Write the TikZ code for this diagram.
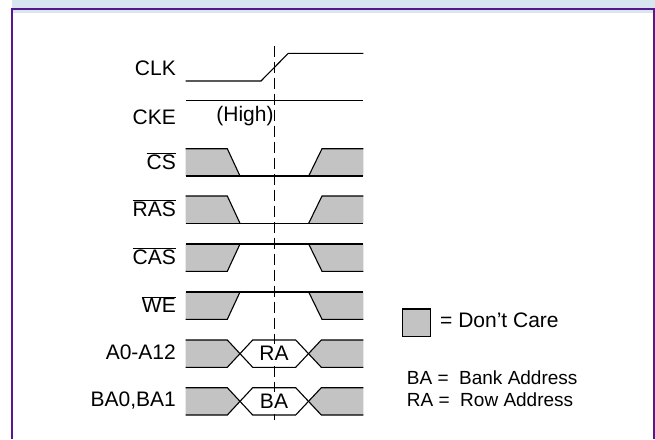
\documentclass[tikz,border=0pt]{standalone}
\usepackage{fontspec}
\setmainfont{Liberation Sans}
\definecolor{dcgrey}{HTML}{C3C3C3}
\definecolor{bandblue}{HTML}{D8E7EF}
\definecolor{frame}{HTML}{5A168C}
\newcommand\ovl[1]{$\overline{\mbox{#1}}$}
\tikzset{
  sig/.style={line width=1.1pt, line join=miter},
  lbl/.style={anchor=east, inner sep=0pt, font=\fontsize{21}{24}\selectfont},
  txt/.style={inner sep=0pt, font=\fontsize{21}{24}\selectfont},
  pics/carefall/.style={code={
    \fill[dcgrey] (185.7,0)--(227.3,0)--(240,27.3)--(185.7,27.3)--cycle;
    \fill[dcgrey] (308.7,27.3)--(322,0)--(363.3,0)--(363.3,27.3)--cycle;
    \draw[sig] (185.7,0)--(227.3,0)--(240,27.3);
    \draw[sig] (185.7,27.3)--(363.3,27.3);
    \draw[sig] (308.7,27.3)--(322,0)--(363.3,0);
  }},
  pics/carerise/.style={code={
    \fill[dcgrey] (185.7,0)--(240,0)--(227.3,27.3)--(185.7,27.3)--cycle;
    \fill[dcgrey] (308.7,0)--(363.3,0)--(363.3,27.3)--(322,27.3)--cycle;
    \draw[sig] (185.7,0)--(363.3,0);
    \draw[sig] (185.7,27.3)--(227.3,27.3)--(240,0);
    \draw[sig] (308.7,0)--(322,27.3)--(363.3,27.3);
  }},
  pics/bus/.style={code={
    \fill[dcgrey] (185.7,0)--(227.3,0)--(240,13.65)--(227.3,27.3)--(185.7,27.3)--cycle;
    \fill[dcgrey] (308.7,13.65)--(321.3,0)--(363.3,0)--(363.3,27.3)--(321.3,27.3)--cycle;
    \draw[sig] (185.7,0)--(227.3,0)--(252.7,27.3)--(295.7,27.3)--(321.3,0)--(363.3,0);
    \draw[sig] (185.7,27.3)--(227.3,27.3)--(252.7,0)--(295.7,0)--(321.3,27.3)--(363.3,27.3);
  }}
}
\begin{document}
\begin{tikzpicture}[x=1pt,y=-1pt]
\useasboundingbox (0,0) rectangle (655,439);
% header band and frame
\fill[bandblue] (12,0) rectangle (655,13);
\fill[white] (12.7,13) rectangle (653.3,439);
\draw[frame, line width=1.8pt] (11.8,439) -- (11.8,9.1) -- (655,9.1);
\draw[frame, line width=1.8pt] (654.2,9.1) -- (654.2,439);
% reference line
\draw[line width=0.9pt, dash pattern=on 11pt off 5pt] (274.3,46) coordinate (reftop) -- (274.3,420) coordinate (refbot);
% CLK
\draw[sig] (185.7,81) -- (261,81) -- (288.3,53.3) -- (363.3,53.3);
\node[lbl] (lclk) at (176,68) {CLK};
% CKE
\draw[sig] (185.7,100.7) -- (363.3,100.7);
\node[lbl] (lcke) at (176,117) {CKE};
\node[txt] (high) at (245,116.5) {(High)};
% control signals
\pic at (0,148.7) {carefall};
\node[lbl] (lcs) at (176,161) {\ovl{CS}};
\pic at (0,196) {carefall};
\node[lbl] (lras) at (176,208.5) {\ovl{RAS}};
\pic at (0,244) {carerise};
\node[lbl] (lcas) at (176,256.5) {\ovl{CAS}};
\pic at (0,292) {carerise};
\node[lbl] (lwe) at (176,304.5) {\ovl{WE}};
% buses
\pic at (0,340) {bus};
\node[txt, fill=white, inner xsep=1pt, inner ysep=2pt] (ra) at (274,353.5) {RA};
\node[lbl] (la) at (176,352.5) {A0-A12};
\pic at (0,387.7) {bus};
\node[txt, fill=white, inner xsep=1pt, inner ysep=2pt] (ba) at (274,401.3) {BA};
\node[lbl] (lba) at (176,400.5) {BA0,BA1};
% legend
\node[draw, line width=1.3pt, fill=dcgrey, minimum width=28pt, minimum height=27.5pt, inner sep=0pt] (dcbox) at (416.8,322.8) {};
\node[txt, anchor=west] (dctxt) at (440,320.5) {= Don\symbol{39}t Care};
\node[txt, anchor=west, font=\fontsize{19}{22}\selectfont] (batxt) at (406.7,378) {BA =\ \ Bank Address};
\node[txt, anchor=west, font=\fontsize{19}{22}\selectfont] (ratxt) at (406.7,400) {RA =\ \ Row Address};
\end{tikzpicture}
\end{document}
